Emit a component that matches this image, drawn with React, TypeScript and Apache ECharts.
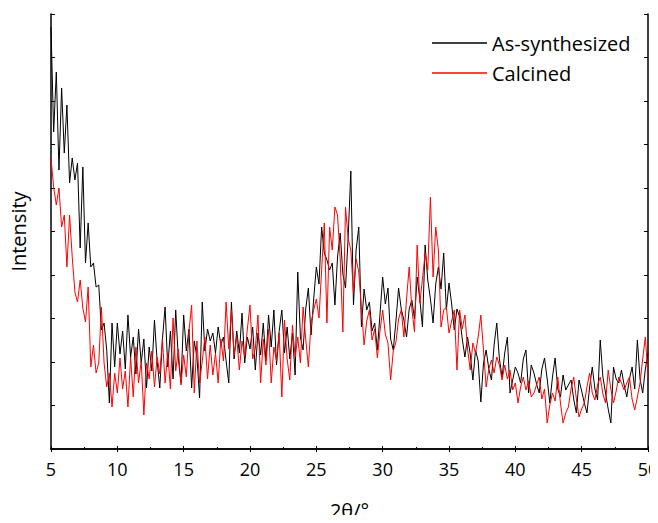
import React, { useEffect, useRef } from "react";
import * as echarts from "echarts";

const startAngle = 5;
const stepAngle = 0.2;
const xTicks = [5, 10, 15, 20, 25, 30, 35, 40, 45, 50];

const asSynthesized = [
  422, 317, 377, 279, 361, 296, 344, 266, 291, 269,
  286, 201, 282, 186, 226, 182, 186, 162, 164, 119,
  126, 99, 46, 126, 82, 126, 95, 118, 80, 134,
  92, 112, 75, 120, 86, 110, 61, 102, 78, 129,
  88, 61, 110, 142, 82, 118, 70, 139, 90, 66,
  134, 98, 120, 61, 108, 92, 51, 147, 98, 120,
  108, 116, 96, 122, 104, 112, 88, 66, 147, 90,
  118, 96, 136, 86, 112, 100, 122, 79, 116, 94,
  126, 88, 134, 102, 139, 84, 118, 139, 96, 122,
  90, 116, 74, 177, 112, 99, 140, 161, 114, 150,
  182, 165, 222, 196, 189, 179, 186, 144, 192, 216,
  175, 161, 212, 278, 144, 199, 222, 122, 160, 139,
  147, 118, 126, 99, 135, 172, 145, 161, 110, 99,
  128, 161, 140, 129, 112, 140, 149, 130, 172, 150,
  122, 204, 169, 150, 126, 165, 182, 160, 196, 139,
  166, 145, 119, 140, 132, 110, 92, 112, 95, 69,
  99, 88, 47, 86, 99, 80, 69, 104, 126, 90,
  72, 96, 112, 56, 69, 82, 76, 66, 90, 99,
  56, 84, 76, 65, 56, 80, 91, 70, 46, 72,
  91, 60, 52, 74, 59, 64, 69, 50, 36, 69,
  58, 46, 36, 62, 82, 60, 49, 109, 72, 56,
  40, 26, 82, 70, 66, 79, 64, 52, 70, 82,
  60, 109, 70, 56, 80, 96,
];

const calcined = [
  291, 262, 244, 261, 222, 234, 182, 234, 192, 157,
  147, 169, 141, 127, 162, 82, 104, 76, 86, 142,
  86, 62, 76, 42, 76, 56, 91, 60, 78, 42,
  92, 52, 102, 66, 88, 34, 86, 70, 98, 62,
  92, 75, 110, 66, 96, 60, 131, 78, 100, 64,
  94, 72, 118, 144, 56, 108, 66, 88, 112, 70,
  104, 74, 96, 66, 110, 88, 147, 100, 139, 94,
  112, 79, 108, 92, 120, 144, 90, 100, 134, 66,
  110, 84, 120, 66, 102, 88, 116, 52, 129, 90,
  69, 124, 92, 112, 86, 142, 110, 82, 126, 139,
  150, 131, 179, 226, 126, 222, 199, 242, 234, 190,
  117, 242, 210, 199, 156, 190, 177, 140, 104, 128,
  139, 109, 120, 91, 118, 139, 115, 106, 69, 98,
  107, 130, 139, 112, 150, 182, 140, 117, 204, 146,
  170, 196, 179, 252, 172, 222, 199, 122, 139, 142,
  116, 128, 139, 79, 139, 120, 134, 100, 79, 106,
  96, 112, 134, 99, 62, 80, 89, 76, 92, 84,
  69, 84, 70, 79, 59, 66, 46, 62, 72, 59,
  68, 52, 56, 64, 72, 50, 60, 26, 44, 56,
  48, 72, 46, 26, 36, 42, 60, 72, 50, 32,
  40, 46, 62, 76, 56, 49, 64, 72, 55, 46,
  79, 60, 46, 58, 72, 66, 59, 66, 72, 50,
  39, 52, 66, 90, 112, 72,
];

const seriesNames = ["As-synthesized", "Calcined"];
const seriesColors = ["#000000", "#ff0000"];

const toPairs = (vals: number[]) =>
  vals.map((v, i) => [Number((startAngle + i * stepAngle).toFixed(2)), v]);

export default function App() {
  const ref = useRef<HTMLDivElement>(null);
  useEffect(() => {
    if (!ref.current) return;
    const chart = echarts.init(ref.current, undefined, { renderer: "svg" });
    const font = "'Open Sans', 'Noto Sans', sans-serif";
    const axisLine = { show: true, lineStyle: { color: "#000", width: 1.5 } };
    chart.setOption({
      animation: false,
      backgroundColor: "#ffffff",
      grid: {
        left: 51,
        right: 10,
        top: 14,
        bottom: 74,
        containLabel: false,
        outerBoundsMode: "none",
      },
      legend: {
        orient: "vertical",
        left: 432,
        top: 33,
        padding: 0,
        itemGap: 10,
        itemWidth: 55,
        itemHeight: 1.5,
        icon: "rect",
        data: seriesNames,
        textStyle: { fontFamily: font, fontSize: 20, color: "#000", lineHeight: 20 },
      },
      xAxis: [
        {
          type: "value",
          min: xTicks[0],
          max: xTicks[xTicks.length - 1],
          interval: 5,
          position: "bottom",
          axisLine,
          axisTick: { show: true, inside: true, length: 3, lineStyle: { color: "#000" } },
          minorTick: { show: true, splitNumber: 2, length: 2, lineStyle: { color: "#000" } },
          splitLine: { show: false },
          axisLabel: { fontFamily: font, fontSize: 18, color: "#000", margin: 11 },
          name: "2θ/°",
          nameLocation: "middle",
          nameGap: 51,
          nameTextStyle: { fontFamily: font, fontSize: 20, color: "#000" },
        },
        {
          type: "value",
          min: xTicks[0],
          max: xTicks[xTicks.length - 1],
          interval: 5,
          position: "top",
          axisLine,
          axisTick: { show: true, inside: true, length: 3, lineStyle: { color: "#000" } },
          axisLabel: { show: false },
          splitLine: { show: false },
        },
      ],
      yAxis: [
        {
          type: "value",
          min: 0,
          max: 435,
          interval: 43.5,
          position: "left",
          axisLine,
          axisTick: { show: true, inside: true, length: 4, lineStyle: { color: "#000" } },
          axisLabel: { show: false },
          splitLine: { show: false },
          name: "Intensity",
          nameLocation: "middle",
          nameGap: 23,
          nameRotate: 90,
          nameTextStyle: { fontFamily: font, fontSize: 20, color: "#000" },
        },
        {
          type: "value",
          min: 0,
          max: 435,
          interval: 43.5,
          position: "right",
          axisLine,
          axisTick: { show: true, inside: true, length: 4, lineStyle: { color: "#000" } },
          axisLabel: { show: false },
          splitLine: { show: false },
        },
      ],
      series: [
        {
          name: seriesNames[0],
          type: "line",
          data: toPairs(asSynthesized),
          showSymbol: false,
          symbol: "none",
          color: seriesColors[0],
          lineStyle: { color: seriesColors[0], width: 1 },
          z: 2,
        },
        {
          name: seriesNames[1],
          type: "line",
          data: toPairs(calcined),
          showSymbol: false,
          symbol: "none",
          color: seriesColors[1],
          lineStyle: { color: seriesColors[1], width: 1 },
          z: 3,
        },
      ],
    });
    return () => chart.dispose();
  }, []);
  return <div ref={ref} style={{ width: 658, height: 523, margin: -8 }} />;
}
